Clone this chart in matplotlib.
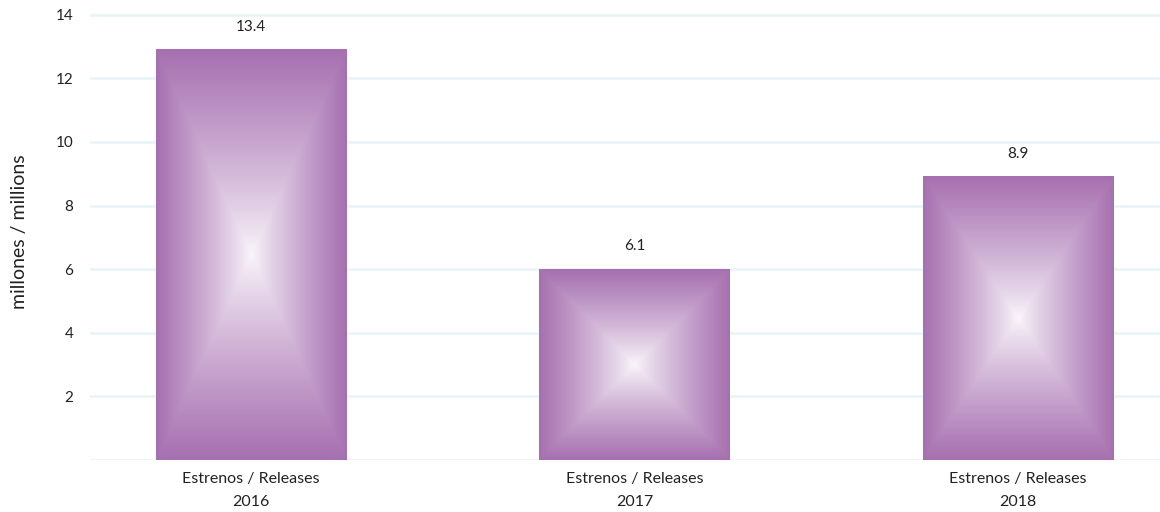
import numpy as np
import matplotlib
matplotlib.use("Agg")
import matplotlib.pyplot as plt
from matplotlib.colors import to_rgb

categories = ["Estrenos / Releases\n2016", "Estrenos / Releases\n2017", "Estrenos / Releases\n2018"]
bar_heights = [12.9, 6.0, 8.9]          # heights as drawn in the picture
value_labels = ["13.4", "6.1", "8.9"]   # printed values
yticks = [2, 4, 6, 8, 10, 12, 14]

plt.rcParams['font.family'] = ['Lato', 'DejaVu Sans']

fig = plt.figure(figsize=(11.6, 5.12), dpi=100)
ax = fig.add_axes([90 / 1160, 52 / 512, 1 - 90 / 1160, 458 / 512])

edge = np.array(to_rgb("#a670b0"))
center = np.array(to_rgb("#faf7fb"))

# pyramid (box) gradient image
n = 300
g = np.linspace(-1, 1, n)
u, v = np.meshgrid(g, g)
t = np.maximum(np.abs(u), np.abs(v))[..., None] ** 0.85
img = center * (1 - t) + edge * t

width = 0.496
for i, h in enumerate(bar_heights):
    ax.imshow(img, extent=(i - width / 2, i + width / 2, 0, h),
              aspect='auto', zorder=2, interpolation='bilinear')
    ax.text(i, h + 0.5, value_labels[i], ha='center', va='bottom',
            fontsize=11, color='#222222')

ax.set_xlim(-0.42, 2.37)
ax.set_ylim(0, 14.4)
ax.set_xticks(range(len(categories)))
ax.set_xticklabels(categories, fontsize=11.5, color='#222222', linespacing=1.75)
ax.set_yticks(yticks)
ax.set_yticklabels([str(y) for y in yticks], fontsize=11, color='#222222')
ax.tick_params(length=0, pad=12)
ax.tick_params(axis='x', pad=9)

for y in [0] + yticks:
    ax.axhline(y, color='#eaf4f8', lw=2, zorder=1)

for s in ax.spines.values():
    s.set_visible(False)

fig.text(20 / 1160, 1 - 232 / 512, "millones / millions", rotation=90,
         ha='center', va='center', fontsize=14, color='#222222')

fig.savefig("out.png", dpi=100)
